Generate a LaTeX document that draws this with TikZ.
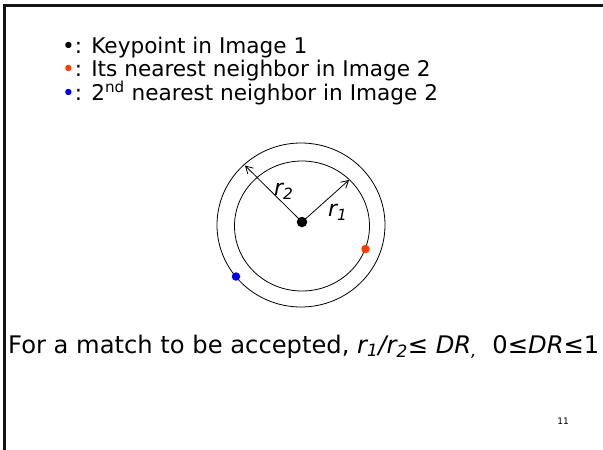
\documentclass[tikz,border=0pt]{standalone}
\usepackage{fontspec}
\setmainfont{DejaVu Sans}
\usetikzlibrary{arrows.meta,positioning}
\definecolor{nnred}{RGB}{255,60,0}
\definecolor{nnblue}{RGB}{0,0,235}
\definecolor{framegray}{RGB}{20,20,20}

\begin{document}
\begin{tikzpicture}[
    x=1pt, y=-1pt,
    >={Straight Barb[length=7pt,width=8pt]},
    legend/.style={anchor=base west, inner sep=0pt, font=\fontsize{21.6}{24}\selectfont},
    ratiotext/.style={anchor=base west, inner sep=0pt, font=\fontsize{24.2}{28}\selectfont},
    ring/.style={draw=black, line width=0.8pt},
    kpdot/.style={circle, fill=black, inner sep=0pt, minimum size=10.5pt},
    nndot/.style={circle, inner sep=0pt, minimum size=8.5pt},
    radius/.style={->, line width=0.8pt},
    rlabel/.style={anchor=base west, font=\fontsize{22}{26}\selectfont\itshape, inner sep=0pt}
]
    \useasboundingbox (0,0) rectangle (603,450);
    % slide frame
    \draw[framegray, line width=3pt] (4.5,450) -- (4.5,5) -- (603,5);

    % Legend
    \node[legend] (leg1) at (62,53) {•: Keypoint in Image 1};
    \node[legend] (leg2) at (62,76.5) {{\color{nnred}•}: Its nearest neighbor in Image 2};
    \node[legend] (leg3) at (62,100) {{\color{nnblue}•}: 2\textsuperscript{nd} nearest neighbor in Image 2};

    % Rings
    \draw[ring] (301,225) ellipse [x radius=84, y radius=82];
    \draw[ring] (302,226) ellipse [x radius=67.5, y radius=65];

    % Points
    \node[kpdot] (kp) at (302,222) {};
    \node[nndot, fill=nnred] (nn1) at (365.5,249) {};
    \node[nndot, fill=nnblue] (nn2) at (236,276.5) {};
    \coordinate (r1end) at (349,180);
    \coordinate (r2end) at (245,165.5);

    \draw[radius] (kp.center) -- (r1end);
    \draw[radius] (kp.center) -- (r2end);
    \node[rlabel] (r2lab) at (274,195) {r\textsubscript{2}};
    \node[rlabel] (r1lab) at (328,216) {r\textsubscript{1}};

    % Ratio test
    \node[ratiotext] (ratio) at (8,353) {For a match to be accepted, \textit{r\textsubscript{1}/r\textsubscript{2}}≤ \textit{DR}\textsubscript{\textit{,}}~ 0≤\textit{DR}≤1};
    \node[anchor=base, inner sep=0pt, font=\fontsize{9}{10}\selectfont] (pnum) at (563,424) {11};
\end{tikzpicture}
\end{document}
